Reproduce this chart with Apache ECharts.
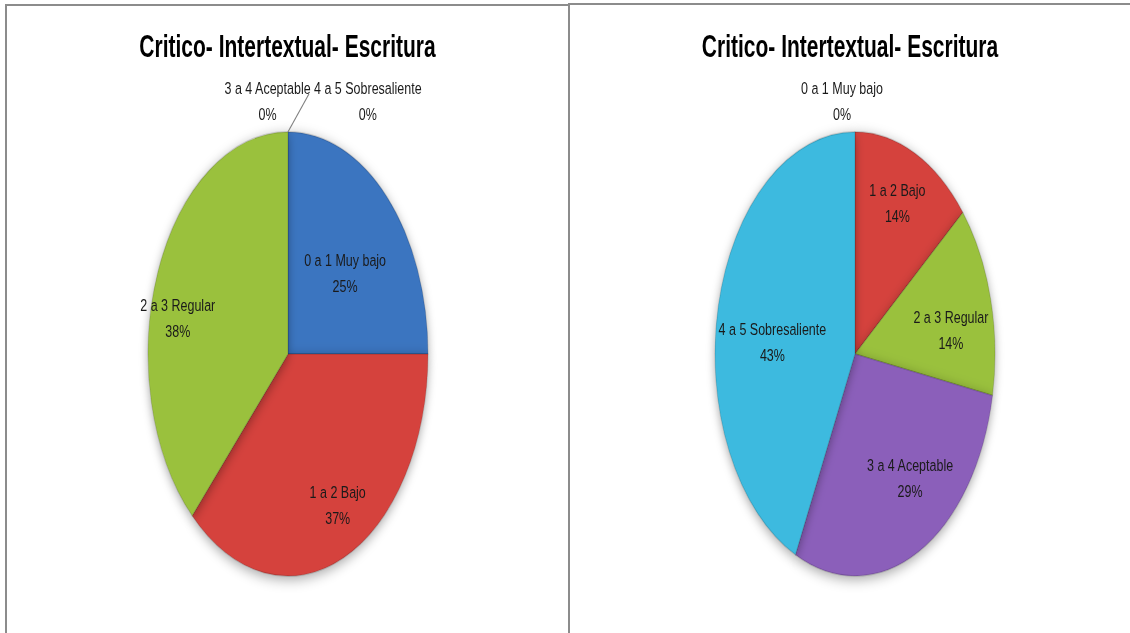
<!DOCTYPE html>
<html>
<head>
<meta charset="utf-8">
<title>Critico- Intertextual- Escritura</title>
<script src="https://cdn.jsdelivr.net/npm/echarts@6/dist/echarts.min.js"></script>
<style>
html, body { margin: 0; padding: 0; background: #fff; overflow: hidden; }
body { position: relative; width: 1130px; height: 633px; }
.frame { position: absolute; box-sizing: border-box; border: 2px solid #8c8c8c; border-bottom: none; }
.frame-left { left: 5px; top: 4px; width: 565px; height: 640px; }
.frame-right { left: 568px; top: 3px; width: 600px; height: 640px; border-right: none; }
/* the picture is stretched vertically: the pies a lot, the text less */
.pie-layer { position: absolute; top: 5px; height: 396px; transform: scaleY(1.586); transform-origin: 0 0; }
.text-layer { position: absolute; top: 5px; height: 476px; transform: scaleY(1.32); transform-origin: 0 0; z-index: 2; }
.title-layer { position: absolute; top: 5px; height: 50px; transform: scaleY(1.46); transform-origin: 0 0; z-index: 3; }
#pieLeft, #textLeft, #titleLeft { left: 7px; width: 561px; }
#pieRight, #textRight, #titleRight { left: 570px; width: 560px; }
</style>
</head>
<body>
<div class="frame frame-left"></div>
<div class="frame frame-right"></div>
<div id="pieLeft" class="pie-layer"></div>
<div id="pieRight" class="pie-layer"></div>
<div id="textLeft" class="text-layer"></div>
<div id="textRight" class="text-layer"></div>
<div id="titleLeft" class="title-layer"></div>
<div id="titleRight" class="title-layer"></div>

<script>
const titleText = 'Critico- Intertextual- Escritura'
const categories = ['0 a 1 Muy bajo', '1 a 2 Bajo', '2 a 3 Regular', '3 a 4 Aceptable', '4 a 5 Sobresaliente']
const leftValues = [25, 37, 38, 0, 0]
const rightValues = [0, 14, 14, 29, 43]

const colors = ['#3a74c0', '#d5433e', '#9ac13e', '#8b5fba', '#3cbadf']
const STRETCH = 1.586 // vertical stretch of the pies
const TEXT_STRETCH = 1.32 // vertical stretch of the slice labels
const RADIUS = 140
const PIE_Y = 220
const LABEL_RATIO = 1.3 // inner labels sit about 65% out from the centre
const font = '"Liberation Sans", Arial, sans-serif'

// small nudges of the inner labels, in screen px (Excel "best fit" placement)
const leftNudge = [[-10, 26], [12, 13], [-22, 20], null, null]
const rightNudge = [null, [2, -14], [4, 14], [12, -10], [10, 21]]

// where the labels of empty slices go (above the top of the pie)
const leftZeroLabels = {
  3: { align: 'right', dx: 23, line: true },
  4: { align: 'left', dx: 26, line: false }
}
const rightZeroLabels = {
  0: { align: 'center', dx: -13, line: false }
}

function sliceOption (values, cx) {
  return {
    animation: false,
    series: [{
      type: 'pie',
      center: [cx, PIE_Y],
      radius: RADIUS,
      startAngle: 90,
      silent: true,
      label: { show: false },
      labelLine: { show: false },
      itemStyle: {
        borderColor: 'rgba(0,0,0,0.15)',
        borderWidth: 1,
        shadowBlur: 8,
        shadowOffsetY: 2,
        shadowColor: 'rgba(0,0,0,0.35)'
      },
      data: categories.map((name, i) => ({ name, value: values[i], itemStyle: { color: colors[i] } }))
    }]
  }
}

function titleOption () {
  return {
    animation: false,
    title: {
      text: titleText,
      left: 'center',
      top: 18,
      padding: 0,
      textStyle: { fontFamily: font, fontSize: 21, fontWeight: 'bold', color: '#000' }
    }
  }
}

function textOption (values, cx, zeroLabels, nudge) {
  const k = STRETCH / TEXT_STRETCH
  const cy = PIE_Y * k
  const top = cy - RADIUS * k
  const ly = top - 31 / TEXT_STRETCH
  return {
    animation: false,
    series: [{
      type: 'pie',
      center: [cx, cy],
      radius: RADIUS,
      startAngle: 90,
      silent: true,
      avoidLabelOverlap: false,
      itemStyle: { color: 'transparent', borderWidth: 0 },
      label: {
        position: 'inside',
        distanceToLabelLine: 0,
        formatter: '{t|{b}}\n{t|{c}%}',
        rich: {
          t: { align: 'center', fontFamily: font, fontSize: 12.5, lineHeight: 19.7, color: '#1a1a1a' }
        }
      },
      labelLine: { show: false, length: 25, length2: 0, lineStyle: { color: '#7f7f7f', width: 1 } },
      labelLayout: function (p) {
        const r = p.labelRect
        const mx = r.x + r.width / 2
        const my = r.y + r.height / 2
        const z = zeroLabels[p.dataIndex]
        if (!z) {
          const n = nudge[p.dataIndex] || [0, 0]
          return {
            x: cx + (mx - cx) * LABEL_RATIO + n[0],
            y: cy + (my - cy) * LABEL_RATIO * k + n[1] / TEXT_STRETCH
          }
        }
        const res = { x: cx + z.dx, y: ly, align: z.align }
        if (z.line && p.labelLinePoints) {
          const ey = top - 38 / TEXT_STRETCH
          res.labelLinePoints = [[cx, top], [cx + 21, ey], [cx + 21, ey]]
        }
        return res
      },
      data: categories.map((name, i) => {
        const z = zeroLabels[i]
        const item = { name, value: values[i] }
        if (z) {
          item.label = { position: 'outside' }
          item.labelLine = { show: z.line }
        }
        return item
      })
    }]
  }
}

const charts = [
  ['pieLeft', sliceOption(leftValues, 281)],
  ['pieRight', sliceOption(rightValues, 285)],
  ['textLeft', textOption(leftValues, 281, leftZeroLabels, leftNudge)],
  ['textRight', textOption(rightValues, 285, rightZeroLabels, rightNudge)],
  ['titleLeft', titleOption()],
  ['titleRight', titleOption()]
]
charts.forEach(([id, option]) => {
  const chart = echarts.init(document.getElementById(id), null, { renderer: 'svg' })
  chart.setOption(option)
})
</script>
</body>
</html>
